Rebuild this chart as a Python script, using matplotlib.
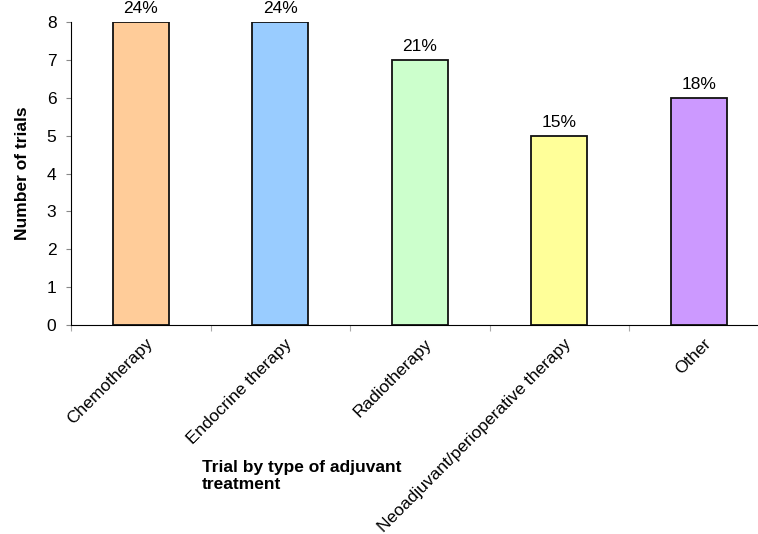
import matplotlib

matplotlib.use("Agg")
import matplotlib.pyplot as plt
import numpy as np

categories = [
    "Chemotherapy",
    "Endocrine therapy",
    "Radiotherapy",
    "Neoadjuvant/perioperative therapy",
    "Other",
]
trials = [8, 8, 7, 5, 6]
pct_labels = ["24%", "24%", "21%", "15%", "18%"]
colors = ["#FFCC99", "#99CCFF", "#CCFFCC", "#FFFF99", "#CC99FF"]

plt.rcParams["font.family"] = ["Liberation Sans", "DejaVu Sans"]

W, H = 758, 534
fig = plt.figure(figsize=(W / 100, H / 100), dpi=100)
# plot area runs a little past the right edge, as in the original
ax = fig.add_axes([71 / W, 1 - 325 / H, (768.5 - 71) / W, (325 - 22) / H])

x = np.arange(len(categories))
bars = ax.bar(x, trials, width=0.4, color=colors, edgecolor="#111111", linewidth=1.3)
for b, lab in zip(bars, pct_labels):
    ax.annotate(lab, xy=(b.get_x() + b.get_width() / 2, b.get_height()),
                xytext=(0, 4), textcoords="offset points",
                ha="center", va="bottom", fontsize=12.5)

ax.set_xlim(-0.5, len(categories) - 0.5)
ax.set_ylim(0, 8)
ax.set_yticks(range(0, 9))
ax.tick_params(axis="y", labelsize=12.5, length=3.5, pad=7, color="#888888")

# ticks sit between categories, names hang from the centres
ax.set_xticks(np.arange(-0.5, len(categories) + 0.5, 1.0))
ax.set_xticklabels([])
ax.tick_params(axis="x", length=4, color="#aaaaaa")
for xi, name in zip(x, categories):
    ax.annotate(name, xy=(xi, 0), xycoords=("data", "axes fraction"),
                xytext=(3, -8), textcoords="offset points",
                rotation=45, rotation_mode="anchor", ha="right", va="top",
                fontsize=12.5)

ax.spines["top"].set_visible(False)
ax.spines["right"].set_visible(False)
ax.spines["left"].set_color("black")
ax.spines["bottom"].set_color("black")

fig.text(23 / W, 1 - 173 / H, "Number of trials", rotation=90,
         fontsize=12.5, fontweight="bold", ha="center", va="center")
fig.text(202 / W, 1 - 476 / H, "Trial by type of adjuvant\ntreatment",
         fontsize=12.5, fontweight="bold", ha="left", va="center", linespacing=1.2)

fig.savefig("out.png", dpi=100)
